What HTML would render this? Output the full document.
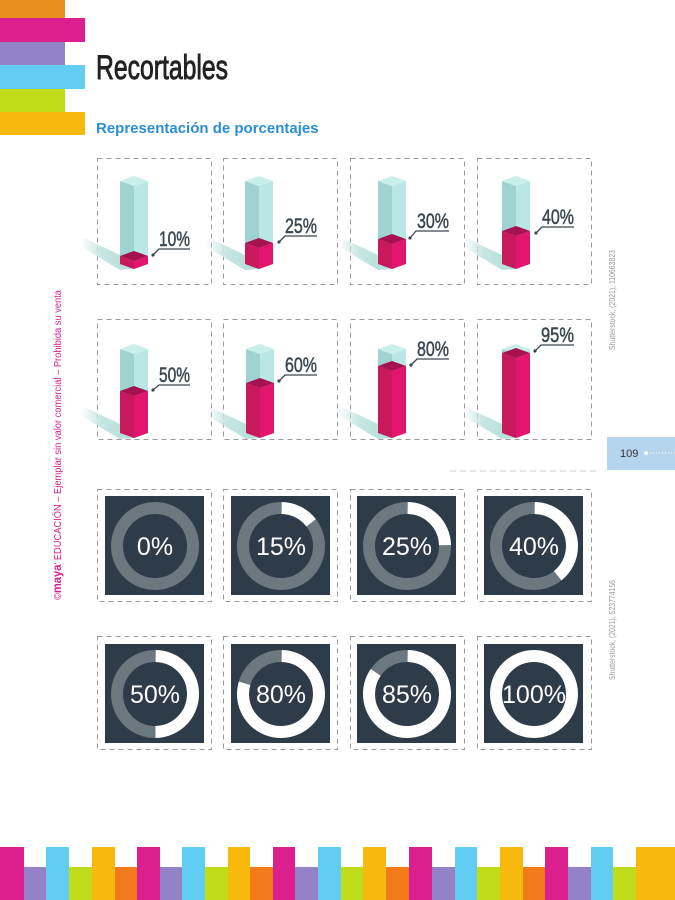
<!DOCTYPE html>
<html><head><meta charset="utf-8"><style>
html,body{margin:0;padding:0;background:#fff;}
svg{display:block;}
.lbl{font-family:"Liberation Sans Narrow","Liberation Sans",sans-serif;font-size:21px;fill:#3b4750;stroke:#3b4750;stroke-width:0.5;}
.dn{font-family:"Liberation Sans",sans-serif;font-size:25px;fill:#fff;text-anchor:middle;}
</style></head><body>
<svg width="675" height="900" viewBox="0 0 675 900" xmlns="http://www.w3.org/2000/svg">
<defs>
<linearGradient id="sh" x1="1" y1="0" x2="0" y2="0"><stop offset="0" stop-color="#b2ddd8"/><stop offset="0.6" stop-color="#c6e6e2"/><stop offset="1" stop-color="#c6e6e2" stop-opacity="0"/></linearGradient>
</defs>
<rect x="0" y="0" width="65" height="18" fill="#e8901f"/>
<rect x="0" y="18" width="85" height="24" fill="#dc1f8e"/>
<rect x="0" y="42" width="65" height="23" fill="#9383c6"/>
<rect x="0" y="65" width="85" height="24" fill="#62cdf3"/>
<rect x="0" y="89" width="65" height="23" fill="#c0db1a"/>
<rect x="0" y="112" width="85" height="23" fill="#f9b90c"/>
<text x="96" y="79" font-family="'Liberation Sans Narrow','Liberation Sans',sans-serif" font-size="34" fill="#222" stroke="#222" stroke-width="0.9" textLength="132" lengthAdjust="spacingAndGlyphs">Recortables</text>
<text x="96" y="133" font-family="'Liberation Sans',sans-serif" font-size="15" font-weight="bold" fill="#2a8fd2">Representación de porcentajes</text>
<text transform="translate(61,600) rotate(-90)" font-family="'Liberation Sans',sans-serif" font-size="10" fill="#d61f8c" textLength="310" lengthAdjust="spacingAndGlyphs">©<tspan font-weight="bold" font-size="12">maya</tspan>' EDUCACIÓN – Ejemplar sin valor comercial – Prohibida su venta</text>
<text transform="translate(615,350) rotate(-90)" font-family="'Liberation Sans',sans-serif" font-size="8" fill="#999" textLength="100" lengthAdjust="spacingAndGlyphs">Shutterstock, (2021), 110663823</text>
<text transform="translate(615,680) rotate(-90)" font-family="'Liberation Sans',sans-serif" font-size="8" fill="#999" textLength="100" lengthAdjust="spacingAndGlyphs">Shutterstock, (2021), 523774156</text>
<rect x="607" y="437" width="68" height="33" fill="#b5d4ee"/>
<text x="620" y="457" font-family="'Liberation Sans',sans-serif" font-size="11" fill="#333">109</text>
<circle cx="646" cy="453" r="2" fill="#fff"/>
<line x1="650" y1="453" x2="675" y2="453" stroke="#fff" stroke-width="1" stroke-dasharray="1 2"/>
<line x1="450" y1="471" x2="600" y2="471" stroke="#ccc" stroke-width="1" stroke-dasharray="6 4"/>

<g fill="none" stroke="#9a9a9a" stroke-width="1" stroke-dasharray="5 4">
<rect x="97.5" y="158.5" width="114" height="126"/><rect x="223.5" y="158.5" width="114" height="126"/><rect x="350.5" y="158.5" width="114" height="126"/><rect x="477.5" y="158.5" width="114" height="126"/>
<rect x="97.5" y="319.5" width="114" height="120"/><rect x="223.5" y="319.5" width="114" height="120"/><rect x="350.5" y="319.5" width="114" height="120"/><rect x="477.5" y="319.5" width="114" height="120"/>
<rect x="97.5" y="489.5" width="114" height="112"/><rect x="223.5" y="489.5" width="114" height="112"/><rect x="350.5" y="489.5" width="114" height="112"/><rect x="477.5" y="489.5" width="114" height="112"/>
<rect x="97.5" y="636.5" width="114" height="113"/><rect x="223.5" y="636.5" width="114" height="113"/><rect x="350.5" y="636.5" width="114" height="113"/><rect x="477.5" y="636.5" width="114" height="113"/>
</g>

<g>
<polygon points="134,269 120,255 84,238 80,246 120,270" fill="url(#sh)"/>
<polygon points="120,181 134,186 134,269 120,264" fill="#9fd3cf"/><polygon points="134,186 148,181 148,264 134,269" fill="#b9e7e3"/><polygon points="134,176 120,181 134,186 148,181" fill="#c9efeb"/>
<polygon points="120,256 134,261 134,269 120,264" fill="#c8185e"/><polygon points="134,261 148,256 148,264 134,269" fill="#e3156f"/><polygon points="134,251 120,256 134,261 148,256" fill="#a5124f"/>
</g>
<g>
<polygon points="259,269 245,255 209,238 205,246 245,270" fill="url(#sh)"/>
<polygon points="245,181 259,186 259,269 245,264" fill="#9fd3cf"/><polygon points="259,186 273,181 273,264 259,269" fill="#b9e7e3"/><polygon points="259,176 245,181 259,186 273,181" fill="#c9efeb"/>
<polygon points="245,243 259,248 259,269 245,264" fill="#c8185e"/><polygon points="259,248 273,243 273,264 259,269" fill="#e3156f"/><polygon points="259,238 245,243 259,248 273,243" fill="#a5124f"/>
</g>
<g>
<polygon points="392,269 378,255 342,238 338,246 378,270" fill="url(#sh)"/>
<polygon points="378,181 392,186 392,269 378,264" fill="#9fd3cf"/><polygon points="392,186 406,181 406,264 392,269" fill="#b9e7e3"/><polygon points="392,176 378,181 392,186 406,181" fill="#c9efeb"/>
<polygon points="378,239 392,244 392,269 378,264" fill="#c8185e"/><polygon points="392,244 406,239 406,264 392,269" fill="#e3156f"/><polygon points="392,234 378,239 392,244 406,239" fill="#a5124f"/>
</g>
<g>
<polygon points="516,269 502,255 466,238 462,246 502,270" fill="url(#sh)"/>
<polygon points="502,181 516,186 516,269 502,264" fill="#9fd3cf"/><polygon points="516,186 530,181 530,264 516,269" fill="#b9e7e3"/><polygon points="516,176 502,181 516,186 530,181" fill="#c9efeb"/>
<polygon points="502,231 516,236 516,269 502,264" fill="#c8185e"/><polygon points="516,236 530,231 530,264 516,269" fill="#e3156f"/><polygon points="516,226 502,231 516,236 530,231" fill="#a5124f"/>
</g>
<g>
<polygon points="134,438 120,424 84,407 80,415 120,439" fill="url(#sh)"/>
<polygon points="120,349 134,354 134,438 120,433" fill="#9fd3cf"/><polygon points="134,354 148,349 148,433 134,438" fill="#b9e7e3"/><polygon points="134,344 120,349 134,354 148,349" fill="#c9efeb"/>
<polygon points="120,391 134,396 134,438 120,433" fill="#c8185e"/><polygon points="134,396 148,391 148,433 134,438" fill="#e3156f"/><polygon points="134,386 120,391 134,396 148,391" fill="#a5124f"/>
</g>
<g>
<polygon points="260,438 246,424 210,407 206,415 246,439" fill="url(#sh)"/>
<polygon points="246,349 260,354 260,438 246,433" fill="#9fd3cf"/><polygon points="260,354 274,349 274,433 260,438" fill="#b9e7e3"/><polygon points="260,344 246,349 260,354 274,349" fill="#c9efeb"/>
<polygon points="246,383 260,388 260,438 246,433" fill="#c8185e"/><polygon points="260,388 274,383 274,433 260,438" fill="#e3156f"/><polygon points="260,378 246,383 260,388 274,383" fill="#a5124f"/>
</g>
<g>
<polygon points="392,438 378,424 342,407 338,415 378,439" fill="url(#sh)"/>
<polygon points="378,349 392,354 392,438 378,433" fill="#9fd3cf"/><polygon points="392,354 406,349 406,433 392,438" fill="#b9e7e3"/><polygon points="392,344 378,349 392,354 406,349" fill="#c9efeb"/>
<polygon points="378,366 392,371 392,438 378,433" fill="#c8185e"/><polygon points="392,371 406,366 406,433 392,438" fill="#e3156f"/><polygon points="392,361 378,366 392,371 406,366" fill="#a5124f"/>
</g>
<g>
<polygon points="516,438 502,424 466,407 462,415 502,439" fill="url(#sh)"/>
<polygon points="502,349 516,354 516,438 502,433" fill="#9fd3cf"/><polygon points="516,354 530,349 530,433 516,438" fill="#b9e7e3"/><polygon points="516,344 502,349 516,354 530,349" fill="#c9efeb"/>
<polygon points="502,353 516,358 516,438 502,433" fill="#c8185e"/><polygon points="516,358 530,353 530,433 516,438" fill="#e3156f"/><polygon points="516,348 502,353 516,358 530,353" fill="#a5124f"/>
</g>

<g fill="none" stroke="#3b4750" stroke-width="1.3">
<polyline points="153,255 159,249 190,249"/><polyline points="279,242 285,236 317,236"/><polyline points="410,238 416,231 449,231"/><polyline points="536,233 542,227 574,227"/>
<polyline points="153,390 159,385 190,385"/><polyline points="279,381 285,375 317,375"/><polyline points="411,365 417,359 449,359"/><polyline points="535,351 541,345 574,345"/>
</g>
<g fill="#3b4750"><circle cx="153" cy="255" r="1.6"/><circle cx="279" cy="242" r="1.6"/><circle cx="410" cy="238" r="1.6"/><circle cx="536" cy="233" r="1.6"/><circle cx="153" cy="390" r="1.6"/><circle cx="279" cy="381" r="1.6"/><circle cx="411" cy="365" r="1.6"/><circle cx="535" cy="351" r="1.6"/></g>
<text class="lbl" x="159" y="246" textLength="31" lengthAdjust="spacingAndGlyphs">10%</text>
<text class="lbl" x="285" y="233" textLength="32" lengthAdjust="spacingAndGlyphs">25%</text>
<text class="lbl" x="417" y="228" textLength="32" lengthAdjust="spacingAndGlyphs">30%</text>
<text class="lbl" x="542" y="224" textLength="32" lengthAdjust="spacingAndGlyphs">40%</text>
<text class="lbl" x="159" y="382" textLength="31" lengthAdjust="spacingAndGlyphs">50%</text>
<text class="lbl" x="285" y="372" textLength="32" lengthAdjust="spacingAndGlyphs">60%</text>
<text class="lbl" x="417" y="356" textLength="32" lengthAdjust="spacingAndGlyphs">80%</text>
<text class="lbl" x="541" y="342" textLength="33" lengthAdjust="spacingAndGlyphs">95%</text>

<g fill="#2e3b48"><rect x="105" y="496" width="99" height="99"/><rect x="231" y="496" width="99" height="99"/><rect x="357" y="496" width="99" height="99"/><rect x="484" y="496" width="99" height="99"/>
<rect x="105" y="644" width="99" height="99"/><rect x="231" y="644" width="99" height="99"/><rect x="357" y="644" width="99" height="99"/><rect x="484" y="644" width="99" height="99"/></g>
<g fill="none" stroke-width="12">
<circle cx="155" cy="546" r="38" stroke="#6c7880"/>
<circle cx="281" cy="546" r="38" stroke="#6c7880"/>
<circle cx="281" cy="546" r="38" stroke="#fff" stroke-dasharray="34 300" transform="rotate(-89 281 546)"/>
<circle cx="407" cy="546" r="38" stroke="#6c7880"/>
<circle cx="407" cy="546" r="38" stroke="#fff" stroke-dasharray="58 300" transform="rotate(-89 407 546)"/>
<circle cx="534" cy="546" r="38" stroke="#6c7880"/>
<circle cx="534" cy="546" r="38" stroke="#fff" stroke-dasharray="93 300" transform="rotate(-89 534 546)"/>
<circle cx="155" cy="694" r="38" stroke="#6c7880"/>
<circle cx="155" cy="694" r="38" stroke="#fff" stroke-dasharray="118 300" transform="rotate(-89 155 694)"/>
<circle cx="281" cy="694" r="38" stroke="#6c7880"/>
<circle cx="281" cy="694" r="38" stroke="#fff" stroke-dasharray="189 300" transform="rotate(-89 281 694)"/>
<circle cx="407" cy="694" r="38" stroke="#6c7880"/>
<circle cx="407" cy="694" r="38" stroke="#fff" stroke-dasharray="201 300" transform="rotate(-89 407 694)"/>
<circle cx="534" cy="694" r="38" stroke="#fff"/>
</g>
<text class="dn" x="155" y="555">0%</text>
<text class="dn" x="281" y="555">15%</text>
<text class="dn" x="407" y="555">25%</text>
<text class="dn" x="534" y="555">40%</text>
<text class="dn" x="155" y="703">50%</text>
<text class="dn" x="281" y="703">80%</text>
<text class="dn" x="407" y="703">85%</text>
<text class="dn" x="534" y="703">100%</text>

<g>
<rect x="0" y="847" width="24" height="53" fill="#dc1f8e"/>
<rect x="24" y="867" width="22" height="33" fill="#9383c6"/>
<rect x="46" y="847" width="23" height="53" fill="#62cdf3"/>
<rect x="69" y="867" width="23" height="33" fill="#c0db1a"/>
<rect x="92" y="847" width="23" height="53" fill="#f9b90c"/>
<rect x="115" y="867" width="22" height="33" fill="#f27a1a"/>
<rect x="137" y="847" width="23" height="53" fill="#dc1f8e"/>
<rect x="160" y="867" width="22" height="33" fill="#9383c6"/>
<rect x="182" y="847" width="23" height="53" fill="#62cdf3"/>
<rect x="205" y="867" width="23" height="33" fill="#c0db1a"/>
<rect x="228" y="847" width="22" height="53" fill="#f9b90c"/>
<rect x="250" y="867" width="23" height="33" fill="#f27a1a"/>
<rect x="273" y="847" width="22" height="53" fill="#dc1f8e"/>
<rect x="295" y="867" width="23" height="33" fill="#9383c6"/>
<rect x="318" y="847" width="23" height="53" fill="#62cdf3"/>
<rect x="341" y="867" width="22" height="33" fill="#c0db1a"/>
<rect x="363" y="847" width="23" height="53" fill="#f9b90c"/>
<rect x="386" y="867" width="23" height="33" fill="#f27a1a"/>
<rect x="409" y="847" width="23" height="53" fill="#dc1f8e"/>
<rect x="432" y="867" width="23" height="33" fill="#9383c6"/>
<rect x="455" y="847" width="22" height="53" fill="#62cdf3"/>
<rect x="477" y="867" width="23" height="33" fill="#c0db1a"/>
<rect x="500" y="847" width="23" height="53" fill="#f9b90c"/>
<rect x="523" y="867" width="22" height="33" fill="#f27a1a"/>
<rect x="545" y="847" width="23" height="53" fill="#dc1f8e"/>
<rect x="568" y="867" width="23" height="33" fill="#9383c6"/>
<rect x="591" y="847" width="22" height="53" fill="#62cdf3"/>
<rect x="613" y="867" width="23" height="33" fill="#c0db1a"/>
<rect x="636" y="847" width="39" height="53" fill="#f9b90c"/>
</g>
</svg>
</body></html>
